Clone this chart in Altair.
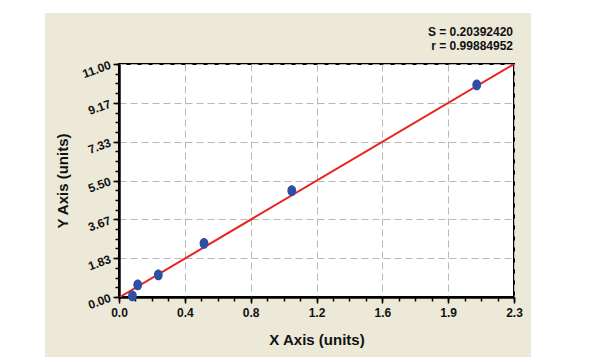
import altair as alt
import pandas as pd

# ---- data ----
point_x = [0.078, 0.109, 0.229, 0.495, 1.006, 2.083]
point_y = [0.05, 0.57, 1.04, 2.53, 5.02, 10.01]

fit_x = [0.005, 2.3]
fit_y = [0.0, 11.0]

x_tick_labels = ["0.0", "0.4", "0.8", "1.2", "1.6", "1.9", "2.3"]
y_tick_labels = ["0.00", "1.83", "3.67", "5.50", "7.33", "9.17", "11.00"]
stats_lines = ["S = 0.20392420", "r = 0.99884952"]

X_MAX = 2.3
Y_MAX = 11.0

x_major = [i * X_MAX / 6 for i in range(7)]
y_major = [i * Y_MAX / 6 for i in range(7)]
x_minor = [i * X_MAX / 24 for i in range(25)]
y_minor = [i * Y_MAX / 24 for i in range(25)]

points = pd.DataFrame({"x": point_x, "y": point_y})
fit = pd.DataFrame({"x": fit_x, "y": fit_y})
dummy = pd.DataFrame({"a": [0]})
stats = pd.DataFrame({"t": ["\n".join(stats_lines)]})

FONT = "Liberation Sans"
xscale = alt.Scale(domain=[0, X_MAX], nice=False, zero=False)
yscale = alt.Scale(domain=[0, Y_MAX], nice=False, zero=False)

x_label_expr = "[" + ",".join(f"'{t}'" for t in x_tick_labels) + "][round(datum.value/" + str(X_MAX / 6) + ")]"
y_label_expr = "[" + ",".join(f"'{t}'" for t in y_tick_labels) + "][round(datum.value/" + str(Y_MAX / 6) + ")]"


def strip(x0, x1, y0, y1):
    return alt.Chart(dummy).mark_rect(color="white").encode(
        x=alt.value(x0), x2=alt.value(x1), y=alt.value(y0), y2=alt.value(y1)
    )


strips = [
    strip(-119, -74, -64, 298),
    strip(412, 481, -64, 298),
    strip(-74, 412, -64, -51),
    strip(-74, 412, 293, 298),
]

stats_text = alt.Chart(stats).mark_text(
    align="right", baseline="alphabetic", font=FONT, fontSize=12, fontWeight="bold",
    color="#111", lineBreak="\n", lineHeight=13.5
).encode(x=alt.value(394), y=alt.value(-28), text="t:N")

minor = alt.Chart(fit).mark_line(color="#E8231E", strokeWidth=2, clip=True).encode(
    x=alt.X("x:Q", scale=xscale, axis=alt.Axis(
        orient="bottom", values=x_minor, labels=False, grid=False, domain=False,
        tickSize=4, tickWidth=1.5, tickColor="black", title=None)),
    y=alt.Y("y:Q", scale=yscale, axis=alt.Axis(
        orient="left", values=y_minor, labels=False, grid=False, domain=False,
        tickSize=4, tickWidth=1.5, tickColor="black", title=None)),
)

ellipse = "M 0 -1 A 0.82 1 0 1 1 0 1 A 0.82 1 0 1 1 0 -1 Z"

major_pts = alt.Chart(points).mark_point(
    shape=ellipse, filled=True, color="#2F4FA5", opacity=1, size=115
).encode(
    x=alt.X("x:Q", scale=xscale, axis=alt.Axis(
        orient="bottom", values=x_major, labelExpr=x_label_expr, labelFlush=False,
        grid=True, gridDash=[7, 4], gridColor="#B8B8B8", gridWidth=1,
        domain=True, domainColor="black", domainWidth=2.5,
        tickSize=6, tickWidth=1.5, tickColor="black",
        labelFont=FONT, labelFontWeight="bold", labelFontSize=12, labelColor="#111",
        labelPadding=4,
        title="X Axis (units)", titleFont=FONT, titleFontSize=15, titleFontWeight="bold",
        titleColor="#111", titlePadding=14)),
    y=alt.Y("y:Q", scale=yscale, axis=alt.Axis(
        orient="left", values=y_major, labelExpr=y_label_expr, labelFlush=False,
        grid=True, gridDash=[7, 4], gridColor="#B8B8B8", gridWidth=1,
        domain=True, domainColor="black", domainWidth=2.5,
        tickSize=6, tickWidth=1.5, tickColor="black",
        labelFont=FONT, labelFontWeight="bold", labelFontSize=12, labelColor="#111",
        labelAngle=340, labelPadding=3,
        title="Y Axis (units)", titleFont=FONT, titleFontSize=15, titleFontWeight="bold",
        titleColor="#111", titlePadding=10)),
)

chart = alt.layer(*strips, stats_text, minor, major_pts).resolve_axis(
    x="independent", y="independent"
).properties(
    width=395, height=233,
    autosize=alt.AutoSizeParams(type="none"),
    padding={"left": 119, "top": 64, "right": 86, "bottom": 65},
    background="#ECE9D9",
).configure_view(fill="white", stroke="black", strokeWidth=2)

chart.save("out.html", embed_options={"renderer": "svg", "actions": False})
